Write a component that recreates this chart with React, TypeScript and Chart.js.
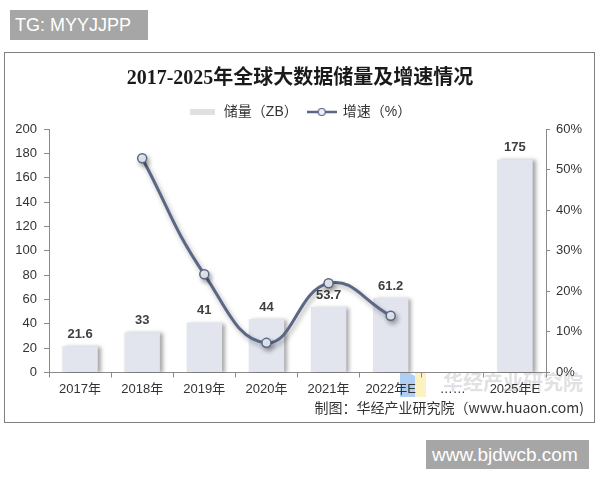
import React, { useEffect, useRef } from "react";
import { Chart, registerables } from "chart.js";

Chart.register(...registerables);

const categories = ["2017年", "2018年", "2019年", "2020年", "2021年", "2022年E", "……", "2025年E"];
const storageZB = [21.6, 33, 41, 44, 53.7, 61.2, null, 175];
const growthPct = [null, 52.8, 24.2, 7.3, 22.0, 14.0, null, null];
const leftAxis = { min: 0, max: 200, step: 20 };
const rightAxis = { min: 0, max: 60, step: 10 };
const titleText = "2017-2025年全球大数据储量及增速情况";
const legendLabels = ["储量（ZB）", "增速（%）"];
const sourceText = "制图：华经产业研究院（www.huaon.com)";

const SANS = '"Liberation Sans", Arial, "Noto Sans CJK SC", sans-serif';
const TITLE_FONT = '"Liberation Serif", "Noto Sans CJK SC", serif';
const BAR_COLOR = "#e2e5ee";
const LINE_COLOR = "#5a6785";
const AXIS_COLOR = "#8a8a8a";

function makeBarSwatch() {
  const c = document.createElement("canvas");
  c.width = 25;
  c.height = 6;
  const g = c.getContext("2d")!;
  g.fillStyle = "#e1e1e3";
  g.fillRect(0, 0, 25, 6);
  return c;
}

function makeLineSwatch() {
  const c = document.createElement("canvas");
  c.width = 30;
  c.height = 10;
  const g = c.getContext("2d")!;
  g.strokeStyle = LINE_COLOR;
  g.lineWidth = 2.5;
  g.beginPath();
  g.moveTo(0, 5);
  g.lineTo(30, 5);
  g.stroke();
  g.beginPath();
  g.arc(15, 5, 3.5, 0, Math.PI * 2);
  g.fillStyle = "#eef0f7";
  g.fill();
  g.lineWidth = 1.2;
  g.stroke();
  return c;
}

const decorPlugin = {
  id: "decor",
  beforeDatasetDraw(chart: any, args: any) {
    const ctx = chart.ctx;
    ctx.save();
    if (args.index === 0) {
      ctx.shadowColor = "rgba(0,0,0,0.35)";
      ctx.shadowBlur = 4;
      ctx.shadowOffsetX = 3;
      ctx.shadowOffsetY = 1;
    } else {
      ctx.shadowColor = "rgba(0,0,0,0.32)";
      ctx.shadowBlur = 5;
      ctx.shadowOffsetX = 2;
      ctx.shadowOffsetY = 3;
    }
  },
  afterDatasetDraw(chart: any, args: any) {
    const ctx = chart.ctx;
    ctx.restore();
    if (args.index === 0) {
      const meta = chart.getDatasetMeta(0);
      ctx.save();
      ctx.font = "bold 13px " + SANS;
      ctx.fillStyle = "#404040";
      ctx.textAlign = "center";
      ctx.textBaseline = "middle";
      meta.data.forEach((el: any, i: number) => {
        const v = storageZB[i];
        if (v == null) return;
        ctx.fillText(String(v), el.x, el.y - 12);
      });
      ctx.restore();
    }
  },
};

export default function App() {
  const ref = useRef<HTMLCanvasElement | null>(null);

  useEffect(() => {
    if (!ref.current) return;
    const barSwatch = makeBarSwatch();
    const lineSwatch = makeLineSwatch();
    const chart = new Chart(ref.current, {
      type: "bar",
      data: {
        labels: categories,
        datasets: [
          {
            type: "bar",
            label: legendLabels[0],
            data: storageZB as any,
            backgroundColor: BAR_COLOR,
            borderWidth: 0,
            barPercentage: 0.57,
            categoryPercentage: 1,
            yAxisID: "y",
            order: 2,
          } as any,
          {
            type: "line",
            label: legendLabels[1],
            data: growthPct as any,
            borderColor: LINE_COLOR,
            borderWidth: 3,
            tension: 0.45,
            pointRadius: 4.5,
            pointBackgroundColor: "#eef0f7",
            pointBorderColor: LINE_COLOR,
            pointBorderWidth: 1.5,
            spanGaps: false,
            yAxisID: "y1",
            order: 1,
          } as any,
        ],
      },
      options: {
        responsive: false,
        animation: false,
        events: [],
        layout: { padding: { top: 61, left: 0, right: 0, bottom: 0 } },
        plugins: {
          tooltip: { enabled: false },
          title: {
            display: true,
            text: titleText,
            color: "#1a1a1a",
            font: { size: 20, weight: "bold", family: TITLE_FONT },
            padding: { top: 6, bottom: 4 },
          },
          legend: {
            display: true,
            position: "top",
            labels: {
              usePointStyle: true,
              pointStyleWidth: 28,
              padding: 10,
              color: "#333",
              font: { size: 14, family: SANS },
              generateLabels: () => [
                {
                  text: legendLabels[0],
                  pointStyle: barSwatch as any,
                  fillStyle: "transparent",
                  strokeStyle: "transparent",
                  lineWidth: 0,
                  hidden: false,
                  datasetIndex: 0,
                  fontColor: "#333",
                },
                {
                  text: legendLabels[1],
                  pointStyle: lineSwatch as any,
                  fillStyle: "transparent",
                  strokeStyle: "transparent",
                  lineWidth: 0,
                  hidden: false,
                  datasetIndex: 1,
                  fontColor: "#333",
                },
              ],
            },
          },
        },
        scales: {
          x: {
            offset: true,
            grid: {
              display: true,
              offset: true,
              drawOnChartArea: false,
              drawTicks: true,
              tickLength: 5,
              color: AXIS_COLOR,
            },
            border: { display: true, color: AXIS_COLOR, width: 1 },
            ticks: {
              color: "#333",
              font: { size: 13, family: SANS },
              padding: 4,
              autoSkip: false,
              maxRotation: 0,
            },
            afterFit(s: any) {
              s.height = 107.5;
            },
          },
          y: {
            position: "left",
            min: leftAxis.min,
            max: leftAxis.max,
            ticks: {
              stepSize: leftAxis.step,
              color: "#333",
              font: { size: 13, family: SANS },
              padding: 7,
            },
            grid: {
              display: true,
              drawOnChartArea: false,
              drawTicks: true,
              tickLength: 5,
              color: AXIS_COLOR,
            },
            border: { display: true, color: AXIS_COLOR, width: 1 },
            afterFit(s: any) {
              s.width = 49;
            },
          },
          y1: {
            position: "right",
            min: rightAxis.min,
            max: rightAxis.max,
            ticks: {
              stepSize: rightAxis.step,
              color: "#333",
              font: { size: 13, family: SANS },
              padding: 6,
              callback: (v: any) => v + "%",
            },
            grid: {
              display: true,
              drawOnChartArea: false,
              drawTicks: true,
              tickLength: 4,
              color: AXIS_COLOR,
            },
            border: { display: true, color: AXIS_COLOR, width: 1 },
            afterFit(s: any) {
              s.width = 54;
            },
          },
        },
      } as any,
      plugins: [decorPlugin as any],
    });
    return () => chart.destroy();
  }, []);

  return (
    <div style={{ position: "absolute", left: 0, top: 0, width: 600, height: 480, background: "#fff", overflow: "hidden" }}>
      <div
        style={{
          position: "absolute",
          left: 10,
          top: 10,
          width: 138,
          height: 30,
          background: "#a6a6a6",
          color: "#fff",
          fontFamily: SANS,
          fontSize: 18,
          lineHeight: "30px",
          paddingLeft: 5,
          boxSizing: "border-box",
        }}
      >
        TG: MYYJJPP
      </div>
      <div
        style={{
          position: "absolute",
          left: 4,
          top: 52,
          width: 591,
          height: 371,
          border: "1px solid #7f7f7f",
          boxSizing: "border-box",
        }}
      />
      <div style={{ position: "absolute", left: 400, top: 367, width: 15, height: 30, background: "rgba(110,165,230,0.55)", clipPath: "polygon(0 0, 100% 30%, 100% 100%, 0 100%)" }} />
      <div style={{ position: "absolute", left: 415, top: 372, width: 11, height: 25, background: "rgba(250,232,150,0.6)" }} />
      <div
        style={{
          position: "absolute",
          left: 443,
          top: 371,
          fontFamily: '"Noto Sans CJK SC", sans-serif',
          fontWeight: 700,
          fontSize: 20,
          lineHeight: "22px",
          color: "rgba(150,150,160,0.3)",
          whiteSpace: "nowrap",
        }}
      >
        华经产业研究院
      </div>
      <canvas ref={ref} width={600} height={480} style={{ position: "absolute", left: 0, top: 0, display: "block" }} />
      <div
        style={{
          position: "absolute",
          right: 16,
          top: 398,
          fontFamily: '"Noto Sans CJK SC", sans-serif',
          fontSize: 14,
          lineHeight: "18px",
          color: "#333",
          whiteSpace: "nowrap",
        }}
      >
        {sourceText}
      </div>
      <div
        style={{
          position: "absolute",
          left: 426,
          top: 440,
          width: 163,
          height: 29,
          background: "#a6a6a6",
          color: "#fff",
          fontFamily: SANS,
          fontSize: 19,
          lineHeight: "29px",
          paddingLeft: 6,
          boxSizing: "border-box",
          whiteSpace: "nowrap",
        }}
      >
        www.bjdwcb.com
      </div>
    </div>
  );
}
